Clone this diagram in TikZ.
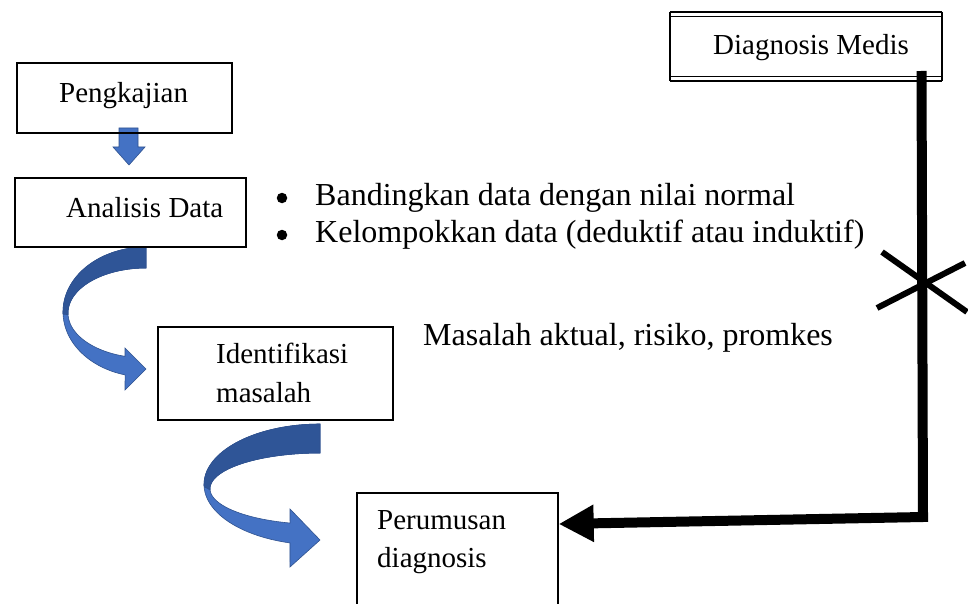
\documentclass[tikz,border=0pt]{standalone}
\usepackage{fontspec}
\setmainfont{Liberation Serif}
\usetikzlibrary{arrows.meta}
\definecolor{bluelight}{HTML}{4472C4}
\definecolor{bluedark}{HTML}{2F5597}
\definecolor{blueedge}{HTML}{2F528F}
\tikzset{
  box/.style={draw=black, line width=1.4pt, inner sep=0pt},
  boxtext/.style={anchor=base west, inner sep=0pt, font=\fontsize{29}{34}\selectfont},
  bigtext/.style={anchor=base west, inner sep=0pt, text height=23pt, text depth=5pt, font=\fontsize{32}{38}\selectfont},
  bulletdot/.style={circle, fill=black, inner sep=0pt, minimum size=10.5pt},
  blueshape/.style={fill=bluelight, draw=blueedge, line width=0.6pt},
  darkpart/.style={fill=bluedark, draw=blueedge, line width=0.6pt},
  thickline/.style={line width=10pt, line join=miter},
  crossline/.style={line width=6pt}
}
\begin{document}
\begin{tikzpicture}[x=1pt,y=-1pt]
\useasboundingbox (0,0) rectangle (968,604);
\fill[white] (0,0) rectangle (968,604);

% small down arrow
\filldraw[blueshape] (119,128) -- (138,128) -- (138,147) -- (145,147) -- (129,165) -- (113,147) -- (119,147) -- cycle;

% curved arrow 1
\filldraw[blueshape] plot[domain=-90:-255.4, variable=\t, samples=50] ({146+83*cos(\t)},{312+65*sin(\t)})
  -- (125,390) -- (146,369) -- (125,348)
  -- plot[domain=-254.4:-90, variable=\t, samples=50] ({146+78*cos(\t)},{313+45*sin(\t)}) -- cycle;
\filldraw[darkpart] plot[domain=-90:-182, variable=\t, samples=40] ({146+83*cos(\t)},{312+65*sin(\t)})
  -- plot[domain=-182:-90, variable=\t, samples=40] ({146+78*cos(\t)},{313+45*sin(\t)}) -- cycle;

% curved arrow 2
\filldraw[blueshape] plot[domain=-90:-255, variable=\t, samples=50] ({320+116*cos(\t)},{484.5+60.5*sin(\t)})
  -- (290,567) -- (320,540) -- (290,509)
  -- plot[domain=-254.2:-90, variable=\t, samples=50] ({320+110*cos(\t)},{488.7+35.7*sin(\t)}) -- cycle;
\filldraw[darkpart] plot[domain=-90:-182, variable=\t, samples=40] ({320+116*cos(\t)},{484.5+60.5*sin(\t)})
  -- plot[domain=-182:-90, variable=\t, samples=40] ({320+110*cos(\t)},{488.7+35.7*sin(\t)}) -- cycle;

% boxes
\node[box, minimum width=215, minimum height=70] (peng) at (124.5,98) {};
\node[boxtext] (pengt) at (59,103) {Pengkajian};

\node[box, minimum width=231, minimum height=69] (anal) at (130.5,212.5) {};
\node[boxtext] (analt) at (66,217) {Analisis Data};

\node[box, minimum width=235, minimum height=93] (iden) at (275.5,373.5) {};
\node[boxtext] (ident1) at (216,363) {Identifikasi};
\node[boxtext] (ident2) at (216,402) {masalah};

\node[box, minimum width=201, minimum height=130] (perum) at (457.5,558) {};
\node[boxtext] (perumt1) at (377,529) {Perumusan};
\node[boxtext] (perumt2) at (377,567) {diagnosis};

% Diagnosis Medis box (double top and bottom lines)
\node[minimum width=272, minimum height=69, inner sep=0pt] (dm) at (806,46.5) {};
\draw[line width=1.5pt] (dm.north west) -- (dm.south west);
\draw[line width=1.5pt] (dm.north east) -- (dm.south east);
\draw[line width=1.5pt] (dm.north west) -- (dm.north east);
\draw[line width=1.5pt] ([yshift=-4.5pt]dm.north west) -- ([yshift=-4.5pt]dm.north east);
\draw[line width=1.5pt] (dm.south west) -- (dm.south east);
\draw[line width=1.5pt] ([yshift=4.5pt]dm.south west) -- ([yshift=4.5pt]dm.south east);
\node[boxtext] (dmt) at (713,55) {Diagnosis Medis};

% texts
\node[bulletdot] (b1) at (282,198) {};
\node[bigtext] (t1) at (315,205) {Bandingkan data dengan nilai normal};
\node[bulletdot] (b2) at (282,235) {};
\node[bigtext] (t2) at (315,242) {Kelompokkan data (deduktif atau induktif)};
\node[bigtext] (t3) at (423,345) {Masalah aktual, risiko, promkes};

% thick connector
\coordinate (c1) at (921.5,71);
\coordinate (c2) at (923,517);
\draw[thickline, -{Triangle[length=35pt,width=35pt]}] (c1) -- (c2) -- (perum.east |- 0,524);

% cross mark
\coordinate (x1) at (882,252);
\coordinate (x2) at (967,312);
\coordinate (x3) at (877,308);
\coordinate (x4) at (965,263);
\draw[crossline] (x1) -- (x2);
\draw[crossline] (x3) -- (x4);
\end{tikzpicture}
\end{document}
